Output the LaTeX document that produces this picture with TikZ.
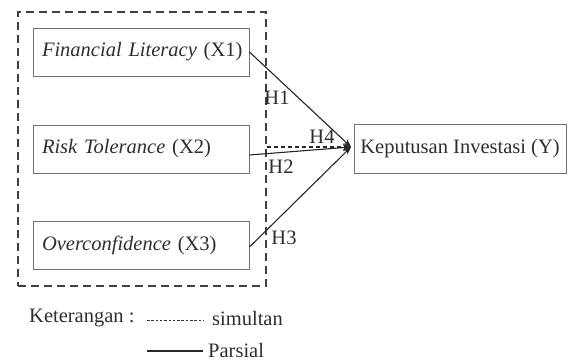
\documentclass[tikz,border=0pt]{standalone}
\usepackage{fontspec}
\setmainfont{Liberation Serif}
\usetikzlibrary{arrows.meta}
\begin{document}
\begin{tikzpicture}[x=1pt,y=-1pt,
  every node/.style={font=\fontsize{20.5}{24}\selectfont, text=black!82},
  varbox/.style={draw=black!55, line width=0.9pt, minimum width=216pt, minimum height=48pt, inner xsep=9pt, inner ysep=0pt, text width=198pt, align=left},
  ybox/.style={draw=black!55, line width=0.9pt, minimum width=212pt, minimum height=49pt, inner sep=0pt},
  grpbox/.style={draw=black!75, line width=1.8pt, dash pattern=on 8pt off 5pt, minimum width=248pt, minimum height=274pt, inner sep=0pt},
  lbl/.style={inner sep=0pt},
  part/.style={draw=black!85, line width=1.1pt, -{Stealth[length=8pt,width=6pt]}},
  sim/.style={draw=black!85, line width=1.1pt, dash pattern=on 4pt off 3pt, -{Stealth[length=8pt,width=6pt]}}
]
\useasboundingbox (0,0) rectangle (568,363);
\node[grpbox] (grp) at (142,149) {};
\node[varbox] (x1) at (141,52) {\makebox[198pt][l]{\textit{Financial Literacy} (X1)}};
\node[varbox] (x2) at (141,149) {\makebox[198pt][l]{\textit{Risk Tolerance} (X2)}};
\node[varbox] (x3) at (141,245) {\makebox[198pt][l]{\textit{Overconfidence} (X3)}};
\node[ybox] (y) at (460,148.5) {Keputusan Investasi (Y)};
\coordinate (tip) at (351,147);
\draw[part] (x1.east) -- (tip);
\draw[part] ([yshift=-6pt]x2.east) -- (tip);
\draw[part] ([yshift=-2pt]x3.east) -- (tip);
\draw[sim] ([yshift=2pt]grp.east) -- (tip);
\node[lbl] (h1) at (277,98) {H1};
\node[lbl] (h4) at (322,137) {H4};
\node[lbl] (h2) at (281,167) {H2};
\node[lbl] (h3) at (284,238) {H3};
\node[lbl, anchor=west] (ket) at (29,318) {Keterangan :};
\coordinate (s1) at (147,320);
\coordinate (s2) at (203,320);
\draw[black!80, line width=0.7pt, dash pattern=on 2.5pt off 1.8pt] (s1) -- (s2);
\node[lbl, anchor=west] (simt) at (212,318) {simultan};
\coordinate (p1) at (147,351);
\coordinate (p2) at (203,351);
\draw[black!85, line width=1.6pt] (p1) -- (p2);
\node[lbl, anchor=west] (pars) at (208,350) {Parsial};
\end{tikzpicture}
\end{document}
